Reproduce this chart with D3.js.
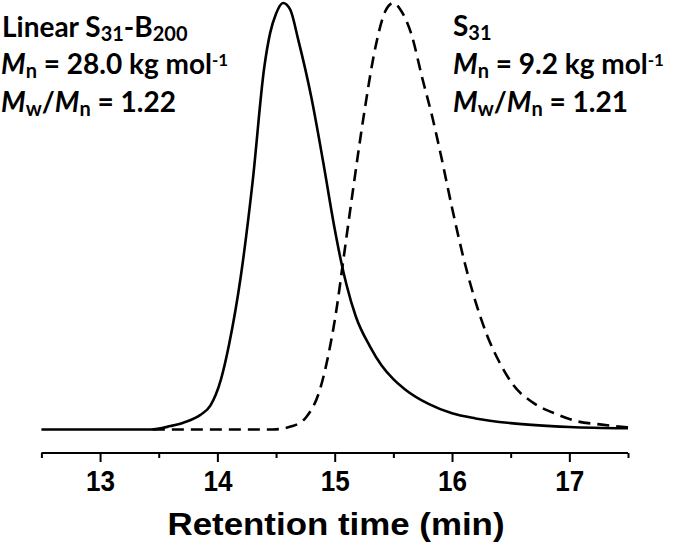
<!DOCTYPE html>
<html><head><meta charset="utf-8">
<script src="https://cdn.jsdelivr.net/npm/d3@7"></script>
<style>body{margin:0;background:#fff}svg{display:block}</style>
</head><body>
<svg id="c" width="673" height="551"></svg>
<script>
// Data: retention time (min) and normalized detector signal
const blockTime = [12.5, 13.43, 13.6, 13.71, 13.86, 13.94, 14.03, 14.1, 14.2, 14.3, 14.4, 14.45, 14.5, 14.56, 14.62, 14.69, 14.8, 14.9, 15.0, 15.05, 15.1, 15.18, 15.3, 15.4, 15.5, 15.6, 15.8, 16.0, 16.2, 16.5, 17.0, 17.5];
const blockSignal = [0, 0, 0.008, 0.016, 0.035, 0.056, 0.117, 0.2, 0.36, 0.58, 0.85, 0.93, 0.975, 1.0, 0.985, 0.913, 0.78, 0.63, 0.47, 0.40, 0.34, 0.265, 0.195, 0.15, 0.118, 0.094, 0.06, 0.038, 0.026, 0.015, 0.006, 0.003];
const homoTime = [13.45, 14.47, 14.64, 14.76, 14.87, 14.95, 15.02, 15.07, 15.15, 15.25, 15.35, 15.43, 15.5, 15.57, 15.65, 15.75, 15.83, 15.9, 16.0, 16.1, 16.2, 16.3, 16.4, 16.52, 16.69, 16.9, 17.07, 17.26, 17.5];
const homoSignal = [0, 0, 0.008, 0.03, 0.09, 0.18, 0.29, 0.39, 0.55, 0.74, 0.9, 0.98, 1.0, 0.98, 0.93, 0.82, 0.735, 0.65, 0.52, 0.40, 0.30, 0.22, 0.16, 0.105, 0.063, 0.035, 0.019, 0.012, 0.005];
const majorTicks = [13, 14, 15, 16, 17];
const minorTicks = [12.5, 13.5, 14.5, 15.5, 16.5, 17.5];
const xTitle = "Retention time (min)";

const svg = d3.select("#c");
const x = d3.scaleLinear().domain([12.5, 17.5]).range([41.4, 628]);
const y = d3.scaleLinear().domain([0, 1]).range([429.5, 3]);

const line = d3.line().x(d => x(d[0])).y(d => y(d[1])).curve(d3.curveMonotoneX);

svg.append("path").datum(homoTime.map((t, i) => [t, homoSignal[i]]))
  .attr("d", line).attr("fill", "none").attr("stroke", "#000")
  .attr("stroke-width", 2.6).attr("stroke-dasharray", "12,7");
svg.append("path").datum(blockTime.map((t, i) => [t, blockSignal[i]]))
  .attr("d", line).attr("fill", "none").attr("stroke", "#000")
  .attr("stroke-width", 2.6);

// Axis
const ax = svg.append("g").attr("transform", "translate(0,453)");
ax.call(d3.axisBottom(x).tickValues(minorTicks).tickSize(5).tickFormat(""));
ax.select(".domain").remove();
const axMaj = svg.append("g").attr("transform", "translate(0,453)")
  .call(d3.axisBottom(x).tickValues(majorTicks).tickSize(9).tickSizeOuter(0).tickFormat(d3.format("d")));
axMaj.select(".domain").attr("stroke-width", 2).attr("d", `M${x(12.5)},0H${x(17.5)}`);
svg.selectAll(".tick line").attr("stroke-width", 2);
axMaj.selectAll(".tick text").attr("font-family", "Liberation Sans, Arial, sans-serif")
  .attr("font-weight", "bold").attr("font-size", 29).attr("fill", "#000")
  .attr("dy", null).attr("y", 38).attr("textLength", 29).attr("lengthAdjust", "spacingAndGlyphs");

svg.append("text").attr("x", 336).attr("y", 535).attr("text-anchor", "middle")
  .attr("font-family", "Liberation Sans, Arial, sans-serif").attr("font-weight", "bold")
  .attr("font-size", 31).attr("textLength", 337).attr("lengthAdjust", "spacingAndGlyphs")
  .text(xTitle);

// Annotations
const font = "Lato, 'Noto Sans', sans-serif";
function rich(xp, yp, parts) {
  const t = svg.append("text").attr("x", xp).attr("y", yp)
    .attr("font-family", font).attr("font-weight", "bold").attr("font-size", 28).attr("fill", "#000");
  parts.forEach(p => {
    const s = t.append("tspan").text(p.t);
    if (p.i) s.attr("font-style", "italic");
    if (p.sub) s.attr("font-size", 20).attr("baseline-shift", "-22%");
    if (p.sup) s.attr("font-size", 17).attr("baseline-shift", "45%");
  });
}
rich(2, 37, [{t:"Linear S"},{t:"31",sub:1},{t:"-B"},{t:"200",sub:1}]);
rich(1, 74, [{t:"M",i:1},{t:"n",sub:1},{t:" = 28.0 kg mol"},{t:"-1",sup:1}]);
rich(1, 112, [{t:"M",i:1},{t:"w",sub:1},{t:"/"},{t:"M",i:1},{t:"n",sub:1},{t:" = 1.22"}]);
rich(453, 36, [{t:"S"},{t:"31",sub:1}]);
rich(453, 74, [{t:"M",i:1},{t:"n",sub:1},{t:" = 9.2 kg mol"},{t:"-1",sup:1}]);
rich(453, 112, [{t:"M",i:1},{t:"w",sub:1},{t:"/"},{t:"M",i:1},{t:"n",sub:1},{t:" = 1.21"}]);
</script>
</body></html>
